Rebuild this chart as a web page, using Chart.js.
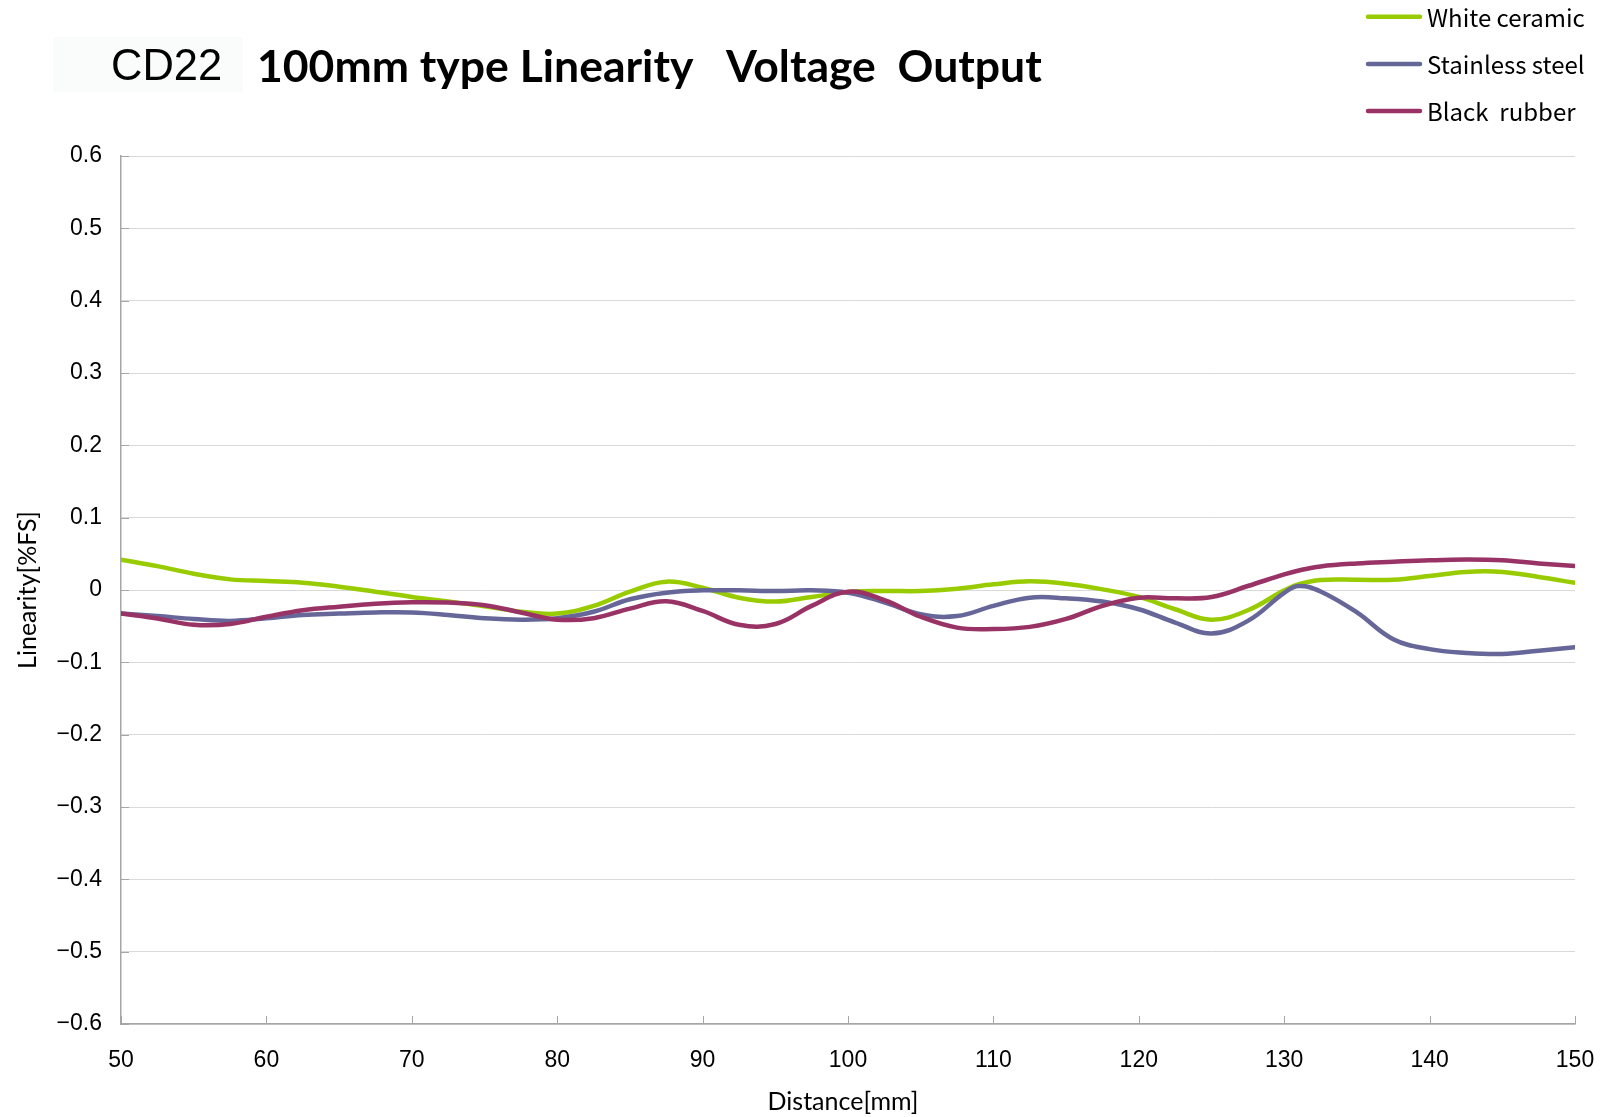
<!DOCTYPE html>
<html>
<head>
<meta charset="utf-8">
<script src="https://cdn.jsdelivr.net/npm/chart.js@4"></script>
<style>
  html, body { margin: 0; padding: 0; background: #fff; overflow: hidden; }
  #wrap { position: relative; width: 1603px; height: 1117px; }
  #linChart { display: block; }
</style>
</head>
<body>
<div id="wrap"><canvas id="linChart"></canvas></div>
<script>
var distances = [50, 52.5, 55, 57.5, 60, 62.5, 65, 67.5, 70, 72.5, 75, 77.5, 80, 82.5, 85, 87.5, 90, 92.5, 95, 97.5,
    100, 102.5, 105, 107.5, 110, 112.5, 115, 117.5, 120, 122.5, 125, 127.5, 130, 131, 132.5, 135, 137.5, 140, 142.5, 145, 147.5, 150];

var whiteCeramic = [0.042, 0.033, 0.0225, 0.0147, 0.0124, 0.0101, 0.0046, -0.0023, -0.0096, -0.016, -0.0225, -0.030, -0.0326, -0.022, -0.0023, 0.0115, 0.0032, -0.0106, -0.016, -0.0096,
    -0.0028, -0.0014, -0.0014, 0.0018, 0.0078, 0.012, 0.0087, 0.0009, -0.0096, -0.0266, -0.041, -0.028, -0.0005, 0.008, 0.0138, 0.0142, 0.0142, 0.0193, 0.025, 0.025, 0.018, 0.010];

var stainlessSteel = [-0.0326, -0.036, -0.040, -0.0427, -0.039, -0.0344, -0.0326, -0.031, -0.031, -0.0344, -0.039, -0.041, -0.039, -0.030, -0.0128, -0.0037, -0.0005, -0.0005, -0.0014, -0.0005,
    -0.0037, -0.017, -0.0335, -0.036, -0.022, -0.0106, -0.0115, -0.016, -0.0266, -0.045, -0.060, -0.0427, -0.004, 0.0055, -0.002, -0.031, -0.068, -0.0817, -0.087, -0.0885, -0.084, -0.079];

var blackRubber = [-0.0326, -0.0394, -0.048, -0.047, -0.037, -0.028, -0.023, -0.019, -0.017, -0.0174, -0.021, -0.031, -0.041, -0.039, -0.0257, -0.0156, -0.029, -0.048, -0.047, -0.022,
    -0.0023, -0.014, -0.037, -0.052, -0.054, -0.051, -0.040, -0.022, -0.0106, -0.0115, -0.0096, 0.0055, 0.0216, 0.027, 0.0326, 0.0367, 0.039, 0.041, 0.042, 0.041, 0.0367, 0.033];

var seriesNames = ['White ceramic', 'Stainless steel', 'Black  rubber'];
var seriesColors = ['#99CC00', '#666699', '#993366'];
var xAxisTitle = 'Distance[mm]';

function toPoints(values) {
    return distances.map(function (d, i) { return { x: d, y: values[i] }; });
}

// title, faint label box, x axis title and the vertical legend in the top right corner
var headerPlugin = {
    id: 'header',
    afterDraw: function (chart) {
        var ctx = chart.ctx, xs = chart.scales.x, ys = chart.scales.y;
        ctx.save();
        ctx.fillStyle = '#fafbfb';
        ctx.fillRect(53, 37, 190, 55);
        ctx.fillStyle = '#000';
        ctx.textBaseline = 'alphabetic';
        ctx.textAlign = 'left';
        ctx.font = '43.5px "Liberation Sans"';
        ctx.fillText('CD22', 111, 80);
        ctx.font = 'bold 44.5px Lato';
        ctx.fillText('100mm type Linearity   Voltage  Output', 257, 82);

        // axis title a fixed distance under the x axis line
        ctx.textAlign = 'center';
        ctx.textBaseline = 'middle';
        ctx.font = '25px Lato';
        ctx.fillText(xAxisTitle, (xs.left + xs.right) / 2 - 5, ys.bottom + 78);

        ctx.textAlign = 'left';
        ctx.font = '24px "Noto Sans CJK JP"';
        chart.data.datasets.forEach(function (ds, i) {
            var y = 16.7 + i * 47.2;
            ctx.strokeStyle = ds.borderColor;
            ctx.lineWidth = 4.5;
            ctx.lineCap = 'round';
            ctx.beginPath();
            ctx.moveTo(1368, y);
            ctx.lineTo(1420, y);
            ctx.stroke();
            ctx.fillStyle = '#000';
            ctx.fillText(ds.label, 1427, y + 1);
        });
        ctx.restore();
    }
};

// short tick marks pointing into the plot area
var innerTicks = {
    id: 'innerTicks',
    afterDraw: function (chart) {
        var ctx = chart.ctx, xs = chart.scales.x, ys = chart.scales.y;
        ctx.save();
        ctx.strokeStyle = '#a6a6a6';
        ctx.lineWidth = 1;
        ctx.beginPath();
        xs.ticks.forEach(function (t) {
            var px = Math.round(xs.getPixelForValue(t.value)) + 0.5;
            ctx.moveTo(px, ys.bottom);
            ctx.lineTo(px, ys.bottom - 8);
        });
        ys.ticks.forEach(function (t) {
            var py = Math.round(ys.getPixelForValue(t.value)) + 0.5;
            ctx.moveTo(xs.left, py);
            ctx.lineTo(xs.left + 8, py);
        });
        ctx.stroke();
        ctx.restore();
    }
};

var ctx = document.getElementById('linChart').getContext('2d');
var myChart = new Chart(ctx, {
    type: 'line',
    data: {
        datasets: [
            { label: seriesNames[0], data: toPoints(whiteCeramic), borderColor: seriesColors[0], order: 3 },
            { label: seriesNames[1], data: toPoints(stainlessSteel), borderColor: seriesColors[1], order: 2 },
            { label: seriesNames[2], data: toPoints(blackRubber), borderColor: seriesColors[2], order: 1 }
        ]
    },
    options: {
        responsive: true,
        maintainAspectRatio: false,
        devicePixelRatio: 1,
        animation: false,
        datasets: {
            line: { borderWidth: 4.5, pointRadius: 0, tension: 0.4, fill: false, borderCapStyle: 'round' }
        },
        layout: { padding: { left: 0, top: 156, right: 28, bottom: 0 } },
        plugins: {
            legend: { display: false },
            tooltip: { enabled: false },
            title: { display: false }
        },
        scales: {
            x: {
                type: 'linear',
                min: 50,
                max: 150,
                afterFit: function (scale) {
                    scale.height = 93;
                    scale.paddingLeft = 0;
                    scale.paddingRight = 0;
                },
                ticks: {
                    stepSize: 10,
                    padding: 23,
                    color: '#000',
                    font: { family: '"Liberation Sans"', size: 23 },
                    maxRotation: 0
                },
                grid: { display: false, drawTicks: false },
                border: { display: true, color: '#a6a6a6', width: 1.5 },
                title: { display: false }
            },
            y: {
                min: -0.6,
                max: 0.6,
                afterFit: function (scale) { scale.width = 121; },
                ticks: {
                    stepSize: 0.1,
                    padding: 19,
                    color: '#000',
                    font: { family: '"Liberation Sans"', size: 23 },
                    callback: function (v) {
                        var r = Math.round(v * 10) / 10;
                        if (r === 0) return '0';
                        return (r < 0 ? '\u2212' : '') + Math.abs(r).toFixed(1);
                    }
                },
                grid: { color: '#d9d9d9', lineWidth: 1, drawTicks: false },
                border: { display: true, color: '#a6a6a6', width: 1.5 },
                title: {
                    display: true,
                    text: 'Linearity[%FS]',
                    color: '#000',
                    font: { family: 'Lato', size: 25 },
                    padding: { top: 13, bottom: 0 }
                }
            }
        }
    },
    plugins: [headerPlugin, innerTicks]
});
</script>
</body>
</html>
